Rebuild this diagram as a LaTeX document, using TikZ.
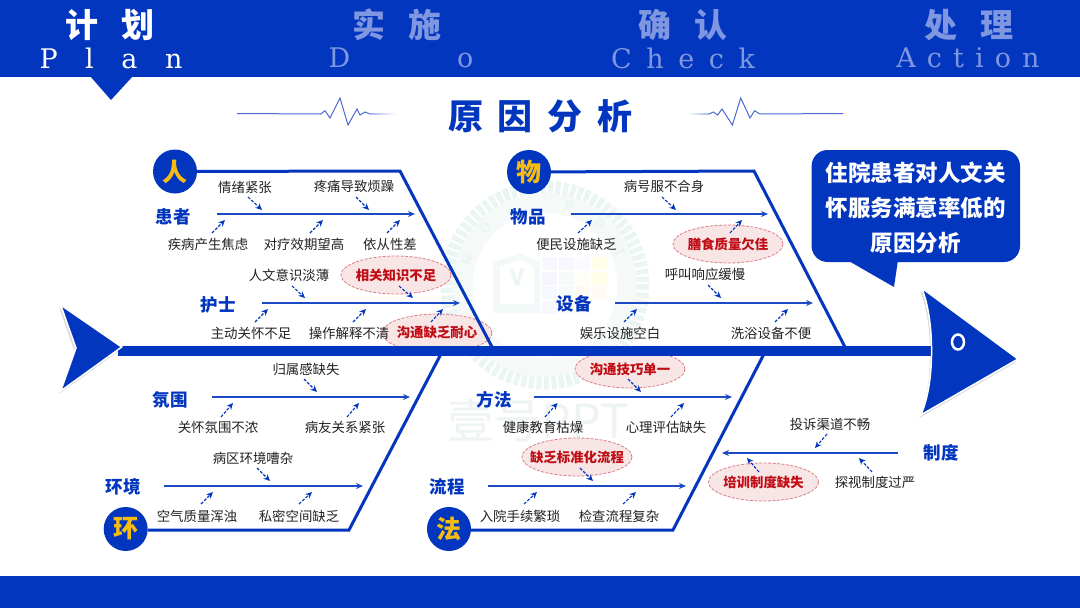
\documentclass[tikz,border=0pt]{standalone}
\usepackage{fontspec}
\setmainfont{Noto Sans CJK SC}
\newfontfamily\latinword{DejaVu Serif}
\usetikzlibrary{arrows.meta, positioning, shapes.geometric, calc, shadows}
\definecolor{mainblue}{HTML}{0336BF}
\definecolor{dimtext}{HTML}{7F97E0}
\definecolor{ecgblue}{HTML}{4A6BD0}
\definecolor{fishgold}{HTML}{F7BC12}
\definecolor{causetext}{HTML}{222222}
\definecolor{ovalfill}{HTML}{F8E6E6}
\definecolor{ovaldraw}{HTML}{DB7C86}
\definecolor{ovaltext}{HTML}{C00C14}
\definecolor{wmring}{HTML}{EBF5F4}
\definecolor{wmband}{HTML}{F5FAF9}
\definecolor{wmtext}{HTML}{EEF3F3}
\tikzset{hdcn/.style={font=\fontsize{33}{36}\selectfont\bfseries,inner sep=0},
    hden/.style={font=\fontsize{27}{30}\latinword,inner sep=0},
    bigcircle/.style={circle,fill=mainblue,text=fishgold,minimum size=44,inner sep=0,
        font=\fontsize{25}{26}\selectfont\bfseries},
    bone/.style={draw=mainblue,line width=3},
    branch/.style={draw=mainblue!90!white,line width=1.2,-{Stealth[length=7,width=6]}},
    causeline/.style={draw=mainblue,line width=1.1,dash pattern=on 3pt off 1.5pt,-{Stealth[length=6.5,width=6]}},
    branchname/.style={text=mainblue,inner sep=0,font=\fontsize{17.5}{18}\selectfont\bfseries},
    cause/.style={text=causetext,inner sep=0,font=\fontsize{13.4}{14}\selectfont},
    oval/.style={ellipse,fill=ovalfill,draw=ovaldraw,dash pattern=on 3pt off 1.5pt,line width=.8,minimum width=110,minimum height=38,
        inner ysep=0,inner xsep=-2pt,text=ovaltext,font=\fontsize{13.4}{14}\selectfont\bfseries},
    fishend/.style={fill=mainblue,draw=white,line width=1.5,line join=miter,
        drop shadow={shadow xshift=-1.5pt,shadow yshift=-3pt,opacity=.14,fill=black}}}
\begin{document}
\begin{tikzpicture}[x=1pt,y=-1pt]
\useasboundingbox (0,0) rectangle (1080,608);
\fill[white] (0,0) rectangle (1080,608);
\draw[wmring,line width=13,dash pattern=on 5pt off 2.5pt] (545,285) circle[radius=98];
\draw[wmband,line width=19] (545,285) circle[radius=82];
\foreach \l/\a in {N/-72,O/-46,P/17,P/42,T/67}
  \node[text=wmring,inner sep=0,rotate=-\a,font=\fontsize{14}{15}\selectfont\bfseries] (wm\a) at ({545+82*sin(\a)},{285-82*cos(\a)}) {\l};
\fill[wmring!60!white] (493,262) -- (520,254) -- (540,262) -- (540,313) -- (493,313) -- cycle;
\fill[white] (500,266) -- (520,260) -- (534,266) -- (534,304) -- (500,304) -- cycle;
\node[text=wmring,inner sep=0,font=\fontsize{22}{22}\selectfont\bfseries] (wmbook) at (518,277) {V};
\foreach \i/\j/\c in {0/0/blue!3,1/0/blue!3,2/0/blue!2,3/0/yellow!8,0/1/blue!4,1/1/teal!4,2/1/yellow!4,3/1/yellow!9,0/2/blue!3,1/2/teal!4,2/2/orange!5,3/2/orange!4,0/3/blue!3,1/3/orange!4,2/3/orange!3,3/3/white}
  \fill[\c] ({542+16.5*\i},{257+14.5*\j}) rectangle ++(15,13);
\node[text=wmtext,inner sep=0,font=\fontsize{47}{48}\selectfont] (wmname) at (538,421) {壹号PPT};

\fill[mainblue] (0,0) rectangle (1080,77);
\fill[mainblue] (0,576) rectangle (1080,608);
\fill[mainblue] (90,76) -- (133,76) -- (111,100) -- cycle;
\node[hdcn,white] (jihua) at (110,25) {计\hspace{24pt}划};
\node[hdcn,dimtext] (shishi) at (397,25) {实\hspace{24pt}施};
\node[hdcn,dimtext] (queren) at (683,25) {确\hspace{24pt}认};
\node[hdcn,dimtext] (chuli) at (969,25) {处\hspace{24pt}理};
\node[hden,white] (plan) at (111,58) {\addfontfeature{LetterSpace=102}Plan};
\node[hden,dimtext] (do) at (401,58) {\addfontfeature{LetterSpace=395}Do};
\node[hden,dimtext] (check) at (683,58) {\addfontfeature{LetterSpace=54}Check};
\node[hden,dimtext] (action) at (968,58) {\addfontfeature{LetterSpace=41}Action};

\node[text=mainblue,inner sep=0,font=\fontsize{35}{36}\selectfont\bfseries] (title) at (540.5,116) {原\hspace{15pt}因\hspace{15pt}分\hspace{15pt}析};
\draw[ecgblue,line width=1] (237,113.5) -- (320.7,114) -- (325,110.7) -- (330,118) -- (340,98) -- (348,125) -- (357,109) -- (360,115) -- (365,112) -- (370,114);
\shade[left color=ecgblue!50!white,right color=white] (370,113.2) rectangle (396,114.2);
\draw[ecgblue,line width=1] (843.4,113.5) -- (760,114) -- (754.5,110.7) -- (750,118) -- (740.7,98) -- (732.4,125) -- (722,109) -- (717.6,115) -- (713.4,112) -- (709,114);
\shade[right color=ecgblue!50!white,left color=white] (688,113.2) rectangle (709,114.2);

\node[oval] (xiangguan) at (396,275) {相关知识不足};
\node[oval] (naixin) at (437,333) {沟通缺乏耐心};
\node[oval] (shanshi) at (728,244) {膳食质量欠佳};
\node[oval] (jiqiao) at (630,369) {沟通技巧单一};
\node[oval,inner xsep=-8pt] (biaozhun) at (577,457) {缺乏标准化流程};
\node[oval] (peixun) at (763.5,482) {培训制度缺失};

\coordinate (spinestart) at (118,351);
\coordinate (spineend) at (932,351);
\draw[mainblue,line width=10.5] (spinestart) -- (spineend);
\draw[fishend] (60.7,305) -- (121.7,347) -- (60.7,391) -- (76,348) -- cycle;
\draw[fishend] (921.7,288) -- (1018,359) -- (920.7,415) .. controls (935,385) and (935,320) .. cycle;
\draw[white,line width=2.5] (958,342) ellipse[x radius=6,y radius=7.5];

\node[bigcircle] (ren) at (175,171.5) {人};
\node[bigcircle] (wu) at (529,172) {物};
\node[bigcircle] (huan) at (125.7,529) {环};
\node[bigcircle] (fa) at (449,529) {法};
\coordinate (renknee) at (400,171);
\coordinate (renfoot) at (493.6,350);
\coordinate (wuknee) at (754,171);
\coordinate (wufoot) at (846.5,350);
\coordinate (huanknee) at (349,530);
\coordinate (huanfoot) at (442,352);
\coordinate (faknee) at (673,530);
\coordinate (fafoot) at (765,352);
\draw[bone] (ren) -- (renknee) -- (renfoot);
\draw[bone] (wu) -- (wuknee) -- (wufoot);
\draw[bone] (huan.east |- huanknee) -- (huanknee) -- (huanfoot);
\draw[bone] (fa.east |- faknee) -- (faknee) -- (fafoot);

\node[branchname] (huanzhe) at (173,217) {患者};
\node[branchname] (hushi) at (218,305) {护士};
\node[branchname] (wupin) at (528,217) {物品};
\node[branchname] (shebei) at (574,304) {设备};
\node[branchname] (fenwei) at (170,400) {氛围};
\node[branchname] (huanjing) at (123,487) {环境};
\node[branchname] (fangfa) at (494,400) {方法};
\node[branchname] (liucheng) at (447,487) {流程};
\node[branchname] (zhidu) at (941,453) {制度};
\coordinate (huanzheend) at (415,214);
\coordinate (hushiend) at (460,303);
\coordinate (wupinend) at (768,214);
\coordinate (shebeiend) at (813,303);
\coordinate (fenweiend) at (410,397);
\coordinate (huanjingend) at (363,486);
\coordinate (fangfaend) at (732,397);
\coordinate (liuchengend) at (686,486);
\coordinate (zhiduend) at (722,453);
\draw[branch] ([shift={(44,-3)}]huanzhe.center) -- (huanzheend);
\draw[branch] ([shift={(44,-2)}]hushi.center) -- (hushiend);
\draw[branch] ([shift={(42.5,-3)}]wupin.center) -- (wupinend);
\draw[branch] ([shift={(41,-1)}]shebei.center) -- (shebeiend);
\draw[branch] ([shift={(42,-3)}]fenwei.center) -- (fenweiend);
\draw[branch] ([shift={(41,-1)}]huanjing.center) -- (huanjingend);
\draw[branch] ([shift={(39.5,-3)}]fangfa.center) -- (fangfaend);
\draw[branch] ([shift={(41,-1)}]liucheng.center) -- (liuchengend);
\draw[branch] ([shift={(-43.5,0)}]zhidu.center) -- (zhiduend);

\node[cause] (qingxu) at (245,187) {情绪紧张};
\node[cause] (tengtong) at (354,186.5) {疼痛导致烦躁};
\node[cause] (jibing) at (208,244) {疾病产生焦虑};
\node[cause] (duiliao) at (304,244) {对疗效期望高};
\node[cause] (yicong) at (390,244) {依从性差};
\node[cause] (renwen) at (289,275) {人文意识淡薄};
\node[cause] (zhudong) at (251,333) {主动关怀不足};
\node[cause] (caozuo) at (349,333) {操作解释不清};
\node[cause] (binghao) at (664,186) {病号服不合身};
\node[cause] (bianmin) at (576.5,244) {便民设施缺乏};
\node[cause] (huhao) at (705,274) {呼叫响应缓慢};
\node[cause] (yule) at (620,333) {娱乐设施空白};
\node[cause] (xiyu) at (771,333) {洗浴设备不便};
\node[cause] (guishu) at (306,369) {归属感缺失};
\node[cause] (guanhuai) at (218,427) {关怀氛围不浓};
\node[cause] (bingyou) at (345,427) {病友关系紧张};
\node[cause] (bingqu) at (253,458) {病区环境嘈杂};
\node[cause] (kongqi) at (197,516) {空气质量浑浊};
\node[cause] (simi) at (299,516) {私密空间缺乏};
\node[cause] (jiankang) at (543,427) {健康教育枯燥};
\node[cause] (xinli) at (666,427) {心理评估缺失};
\node[cause] (ruyuan) at (520,516) {入院手续繁琐};
\node[cause] (jiancha) at (619,516) {检查流程复杂};
\node[cause] (tousu) at (830,424) {投诉渠道不畅};
\node[cause] (tanshi) at (875,482) {探视制度过严};

\coordinate (qingxuend) at (262,210);
\coordinate (tengtongend) at (369,210);
\coordinate (jibingend) at (225,220);
\coordinate (duiliaoend) at (323,220);
\coordinate (yicongend) at (400,220);
\coordinate (renwenend) at (305,298);
\coordinate (xiangguanend) at (413,298);
\coordinate (zhudongend) at (268,309);
\coordinate (caozuoend) at (366,309);
\coordinate (naixinend) at (443,309);
\coordinate (binghaoend) at (676,210);
\coordinate (bianminend) at (592,220);
\coordinate (shanshiend) at (742,220);
\coordinate (huhaoend) at (721,298);
\coordinate (yuleend) at (637,309);
\coordinate (xiyuend) at (788,309);
\coordinate (guishuend) at (317,392);
\coordinate (guanhuaiend) at (233,403);
\coordinate (bingyouend) at (359,403);
\coordinate (bingquend) at (270,481);
\coordinate (kongqiend) at (213,492);
\coordinate (simiend) at (312,492);
\coordinate (jiqiaoend) at (641,392);
\coordinate (jiankangend) at (557.5,403);
\coordinate (xinliend) at (684,403);
\coordinate (biaozhunend) at (593,481);
\coordinate (ruyuanend) at (537,492);
\coordinate (jianchaend) at (636,492);
\coordinate (tousuend) at (815,448);
\coordinate (peixunend) at (747,458);
\coordinate (tanshiend) at (859,458);
\draw[causeline] ([shift={(3,10)}]qingxu.center) -- (qingxuend);
\draw[causeline] ([shift={(2,10.5)}]tengtong.center) -- (tengtongend);
\draw[causeline] ([shift={(4,-11)}]jibing.center) -- (jibingend);
\draw[causeline] ([shift={(6,-11)}]duiliao.center) -- (duiliaoend);
\draw[causeline] ([shift={(-3,-11)}]yicong.center) -- (yicongend);
\draw[causeline] ([shift={(3,11)}]renwen.center) -- (renwenend);
\draw[causeline] ([shift={(3,11)}]xiangguan.center) -- (xiangguanend);
\draw[causeline] ([shift={(4,-11)}]zhudong.center) -- (zhudongend);
\draw[causeline] ([shift={(4,-11)}]caozuo.center) -- (caozuoend);
\draw[causeline] ([shift={(-6,-11)}]naixin.center) -- (naixinend);
\draw[causeline] ([shift={(-2,11)}]binghao.center) -- (binghaoend);
\draw[causeline] ([shift={(1.5,-11)}]bianmin.center) -- (bianminend);
\draw[causeline] ([shift={(2,-11)}]shanshi.center) -- (shanshiend);
\draw[causeline] ([shift={(3,11)}]huhao.center) -- (huhaoend);
\draw[causeline] ([shift={(4,-11)}]yule.center) -- (yuleend);
\draw[causeline] ([shift={(4,-11)}]xiyu.center) -- (xiyuend);
\draw[causeline] ([shift={(-2,10)}]guishu.center) -- (guishuend);
\draw[causeline] ([shift={(3,-10)}]guanhuai.center) -- (guanhuaiend);
\draw[causeline] ([shift={(2,-10)}]bingyou.center) -- (bingyouend);
\draw[causeline] ([shift={(4,10)}]bingqu.center) -- (bingquend);
\draw[causeline] ([shift={(4,-12)}]kongqi.center) -- (kongqiend);
\draw[causeline] ([shift={(0,-12)}]simi.center) -- (simiend);
\draw[causeline] ([shift={(-2,10)}]jiqiao.center) -- (jiqiaoend);
\draw[causeline] ([shift={(2,-10)}]jiankang.center) -- (jiankangend);
\draw[causeline] ([shift={(5,-10)}]xinli.center) -- (xinliend);
\draw[causeline] ([shift={(3,11)}]biaozhun.center) -- (biaozhunend);
\draw[causeline] ([shift={(4,-12)}]ruyuan.center) -- (ruyuanend);
\draw[causeline] ([shift={(4,-12)}]jiancha.center) -- (jianchaend);
\draw[causeline] ([shift={(-3,10)}]tousu.center) -- (tousuend);
\draw[causeline] ([shift={(-4.5,-10)}]peixun.center) -- (peixunend);
\draw[causeline] ([shift={(-3,-10)}]tanshi.center) -- (tanshiend);

\fill[mainblue] (847,260) -- (894,287) -- (898,260) -- cycle;
\node[fill=mainblue,text=white,rounded corners=16,minimum width=208.4,minimum height=112,inner sep=0,align=center,
    font=\fontsize{22.5}{35}\selectfont\bfseries] (callout) at (915.8,206) {\rule{0pt}{24pt}住院患者对人文关\\怀服务满意率低的\\原因分析};
\end{tikzpicture}
\end{document}
